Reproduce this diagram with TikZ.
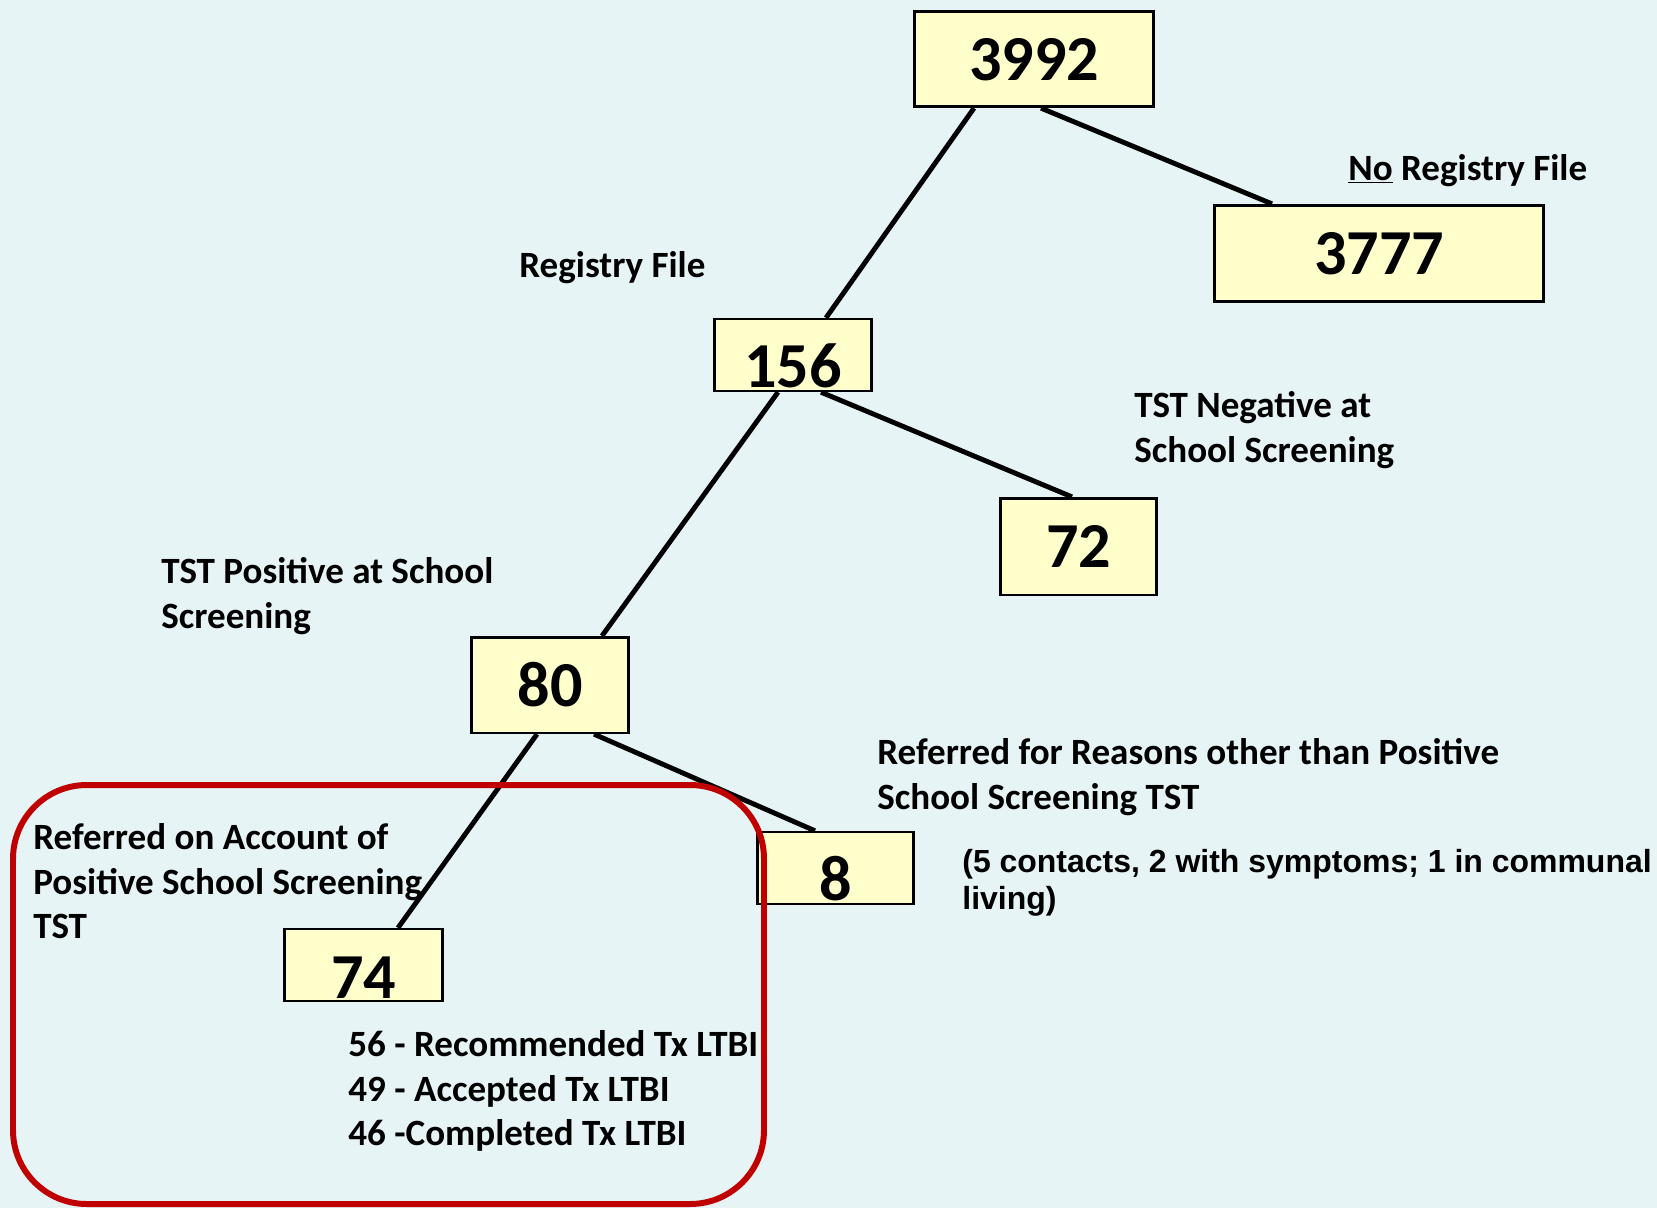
\documentclass[tikz,border=0pt]{standalone}
\usepackage{fontspec}
\setmainfont{Carlito}
\newfontfamily\arialfont{Liberation Sans}
\usetikzlibrary{calc}
\definecolor{bgcol}{HTML}{E6F4F5}
\definecolor{boxfill}{HTML}{FFFFCC}
\definecolor{redline}{HTML}{C00000}
\tikzset{
  numbox/.style={draw=black, line width=1.5pt, fill=boxfill, inner sep=0pt,
    font=\fontsize{36.5}{40}\selectfont\bfseries},
  lbl/.style={anchor=base west, inner sep=0pt, align=left,
    font=\fontsize{21.1}{25.2}\selectfont\bfseries},
  arl/.style={anchor=base west, inner sep=0pt, align=left,
    font=\arialfont\fontsize{18.2}{21}\selectfont\bfseries},
  conn/.style={line width=2.8pt, draw=black},
}
\newcommand{\lownum}[2]{\raisebox{-#1}[0pt][0pt]{#2}}
\begin{document}
\begin{tikzpicture}[x=0.02cm, y=-0.02cm]
\useasboundingbox (0,0) rectangle (1657,1208);
\fill[bgcol] (0,0) rectangle (1657,1208);

\coordinate (c3992) at (1034,59);
\coordinate (c3777) at (1379,253.5);
\coordinate (c156) at (793,355);
\coordinate (c72) at (1078.5,546.5);
\coordinate (c80) at (550,685);
\coordinate (c8) at (835.5,868);
\coordinate (c74) at (363.5,965);

\node[numbox, minimum width=240*0.5669pt, minimum height=96*0.5669pt] (n3992) at (c3992) {\lownum{12pt}{3992}};
\node[numbox, minimum width=330*0.5669pt, minimum height=97*0.5669pt] (n3777) at (c3777) {\lownum{12pt}{3777}};
\node[numbox, minimum width=158*0.5669pt, minimum height=72*0.5669pt] (n156) at (c156) {\lownum{18.7pt}{156}};
\node[numbox, minimum width=157*0.5669pt, minimum height=97*0.5669pt] (n72) at (c72) {\lownum{12pt}{72}};
\node[numbox, minimum width=158*0.5669pt, minimum height=96*0.5669pt] (n80) at (c80) {\lownum{12pt}{80}};
\node[numbox, minimum width=157*0.5669pt, minimum height=72*0.5669pt] (n8) at (c8) {\lownum{18.7pt}{8}};
\node[numbox, minimum width=159*0.5669pt, minimum height=72*0.5669pt] (n74) at (c74) {\lownum{19.3pt}{74}};

\draw[conn] ($(n3992.south)+(-60,0)$) -- ($(n156.north)+(33,0)$);
\draw[conn] ($(n3992.south)+(7,0)$) -- ($(n3777.north)+(-107,0)$);
\draw[conn] ($(n156.south)+(-15,0)$) -- ($(n80.north)+(52,0)$);
\draw[conn] ($(n156.south)+(28,0)$) -- ($(n72.north)+(-6.5,0)$);
\draw[conn] ($(n80.south)+(-13,0)$) -- ($(n74.north)+(34.5,0)$);
\draw[conn] ($(n80.south)+(44,0)$) -- ($(n8.north)+(-20.5,0)$);

\node[lbl] (lNoReg) at (1348,180) {\underline{No} Registry File};
\node[lbl] (lReg) at (519,277) {Registry File};
\node[lbl] (lNeg) at (1134,462) {TST Negative at\\School Screening};
\node[lbl] (lPos) at (161,628) {TST Positive at School\\Screening};
\node[lbl] (lOther) at (877,809) {Referred for Reasons other than Positive\\School Screening TST};
\node[arl] (lContacts) at (962,909) {(5 contacts, 2 with symptoms; 1 in communal\\living)};
\node[lbl] (lAcc) at (33,938.5) {Referred on Account of\\Positive School Screening\\TST};
\node[lbl] (lTx) at (348,1145.5) {56 - Recommended Tx LTBI\\49 - Accepted Tx LTBI\\46 -Completed Tx LTBI};

\draw[redline, line width=3.4pt, rounded corners=42pt] (13,785) rectangle (764,1204);
\end{tikzpicture}
\end{document}
